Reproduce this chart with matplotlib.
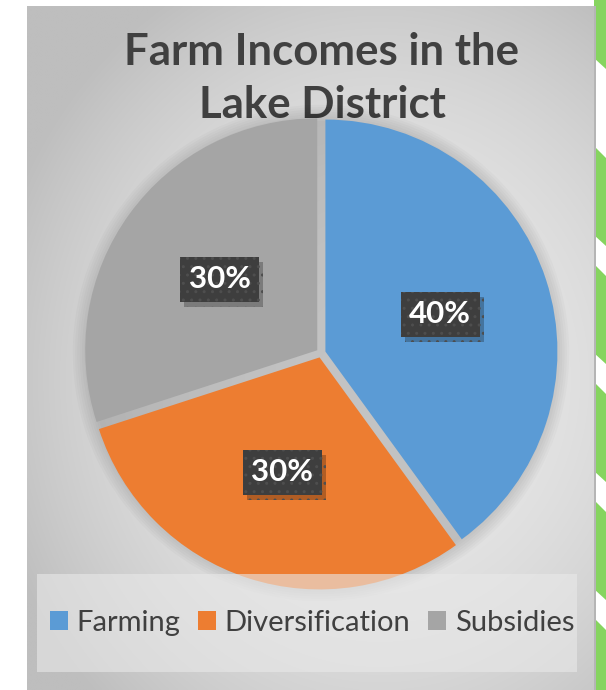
import numpy as np
import matplotlib.pyplot as plt
from matplotlib.patches import Rectangle, Circle, Polygon, Patch
import matplotlib.patheffects as pe

# chart data
categories = ["Farming", "Diversification", "Subsidies"]
shares = [40, 30, 30]
colours = ["#5B9BD5", "#ED7D31", "#A5A5A5"]

W, H = 606, 690
fig = plt.figure(figsize=(W / 100, H / 100), dpi=100)
fig.patch.set_facecolor("white")

# background layer in pixel coordinates (y grows downward)
bg = fig.add_axes([0, 0, 1, 1])
bg.set_xlim(0, W)
bg.set_ylim(H, 0)
bg.axis("off")

# green chevrons peeking out on the right edge
for top in [-30, 147, 265, 383, 501, 619]:
    bot = top + 88
    bg.add_patch(Polygon([(565, top - 30), (606, top + 11), (606, bot + 11), (594, bot), (594, top + 30)],
                         closed=True, facecolor="#86D45F", edgecolor="none", zorder=0))

# grey radial gradient panel
px0, px1, py0, py1 = 27, 595, 6, 690
xx, yy = np.meshgrid(np.linspace(px0, px1, 300), np.linspace(py0, py1, 360))
d = np.sqrt(((xx - 380) / 420) ** 2 + ((yy - 380) / 470) ** 2)
shade = np.clip(234 - 48 * d ** 2, 190, 234) / 255
bg.imshow(np.dstack([shade] * 3), extent=[px0, px1, py1, py0], aspect="auto", zorder=1, interpolation="bilinear")
bg.add_patch(Rectangle((px1 - 1, py0), 1.5, py1 - py0, facecolor="#B5B5B5", edgecolor="none", zorder=2))

# title
bg.text(322, 65, "Farm Incomes in the", ha="center", va="baseline", fontsize=31.5,
        fontweight="bold", family="Lato", color="#404040", zorder=3)
bg.text(322, 118, "Lake District", ha="center", va="baseline", fontsize=31.5,
        fontweight="bold", family="Lato", color="#404040", zorder=3)

# pie axes: centre (321, 353) px, radius 232 px
cx, cy, R, lim = 321, 353, 232, 1.15
side = 2 * lim * R
ax = fig.add_axes([(cx - side / 2) / W, (H - cy - side / 2) / H, side / W, side / H])
ax.patch.set_alpha(0)

# soft shadow around the pie
for r in np.linspace(1.0, 1.07, 8):
    ax.add_patch(Circle((0, 0), r, facecolor="black", alpha=0.018, edgecolor="none", zorder=0))

wedges, texts, autotexts = ax.pie(
    shares, colors=colours, startangle=90, counterclock=False,
    explode=[0.02] * len(shares), autopct="%1.0f%%", pctdistance=0.52,
    wedgeprops=dict(linewidth=0, zorder=2),
)
ax.set_xlim(-lim, lim)
ax.set_ylim(-lim, lim)
ax.axis("off")

for t in autotexts:
    t.set_family("Lato")
    t.set_fontweight("bold")
    t.set_fontsize(22.5)
    t.set_color("white")
    t.set_zorder(6)
    t.set_bbox(dict(boxstyle="square,pad=0.27", facecolor="#3E3E3E", edgecolor="#4E4E4E",
                    linewidth=0, hatch=".."))
    # drop shadow under the label box
    t.get_bbox_patch().set_path_effects(
        [pe.SimplePatchShadow(offset=(3, -4), shadow_rgbFace="black", alpha=0.25), pe.Normal()])

# translucent legend panel over the bottom of the pie
top_ax = fig.add_axes([0, 0, 1, 1])
top_ax.set_xlim(0, W)
top_ax.set_ylim(H, 0)
top_ax.axis("off")
top_ax.patch.set_alpha(0)
top_ax.add_patch(Rectangle((37, 574), 540, 98, facecolor="#E9E9E9", alpha=0.6, edgecolor="none"))

handles = [Patch(facecolor=c, edgecolor="none") for c in colours]
fig.legend(handles, categories, loc="center", bbox_to_anchor=(312 / W, 1 - 623 / H),
           ncol=3, frameon=False, handlelength=0.62, handleheight=0.62, handletextpad=0.3,
           columnspacing=0.6, prop=dict(family="Lato", size=21), labelcolor="#404040")

fig.savefig("out.png", dpi=100)
